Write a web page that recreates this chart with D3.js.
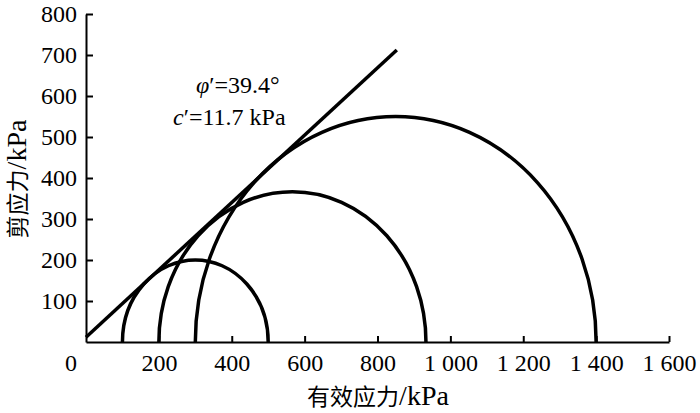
<!DOCTYPE html>
<html><head><meta charset="utf-8">
<script src="https://cdn.jsdelivr.net/npm/d3@7"></script>
<style>
html,body{margin:0;padding:0;background:#fff;}
svg{display:block;}
</style></head>
<body>
<svg id="chart" width="700" height="413"></svg>
<script>
// ---- data ----
const sigma3 = [100, 200, 300];          // kPa, left ends of Mohr circles
const sigma1 = [500, 933, 1400];         // kPa, right ends of Mohr circles
const phiDeg = 39.4;                     // friction angle
const cPrime = 11.7;                     // cohesion kPa
const envelopeX = [0, 853];              // extent of failure envelope (kPa)
const xTicks = [200, 400, 600, 800, 1000, 1200, 1400, 1600];
const xTickLabels = ["200", "400", "600", "800", "1 000", "1 200", "1 400", "1 600"];
const yTicks = [100, 200, 300, 400, 500, 600, 700, 800];
const yTickLabels = ["100", "200", "300", "400", "500", "600", "700", "800"];
const xTitle = ["有效应力", "/kPa"];
const yTitle = ["剪应力", "/kPa"];

const SERIF = "'Liberation Serif'";
const CJK = "'Noto Sans CJK SC'";

const svg = d3.select("#chart");
const x = d3.scaleLinear().domain([0, 1600]).range([86, 669]);
const y = d3.scaleLinear().domain([0, 800]).range([342, 14]);

// axes
const xAxis = d3.axisBottom(x).tickValues(xTicks).tickSizeInner(-6).tickSizeOuter(0)
  .tickFormat((d, i) => xTickLabels[i]).tickPadding(12);
const gx = svg.append("g").attr("transform", `translate(0,${y(0)})`).call(xAxis);
gx.select(".domain").attr("stroke", "#000").attr("stroke-width", 2);
gx.selectAll(".tick line").attr("stroke", "#000").attr("stroke-width", 2);
gx.selectAll(".tick text").style("font-family", SERIF).style("font-size", "24px").attr("fill", "#000");

const yAxis = d3.axisLeft(y).tickValues(yTicks).tickSizeInner(-7).tickSizeOuter(0)
  .tickFormat((d, i) => yTickLabels[i]).tickPadding(9);
const gy = svg.append("g").attr("transform", `translate(${x(0)},0)`).call(yAxis);
gy.select(".domain").attr("stroke", "#000").attr("stroke-width", 2);
gy.selectAll(".tick line").attr("stroke", "#000").attr("stroke-width", 2);
gy.selectAll(".tick text").style("font-family", SERIF).style("font-size", "24px").attr("fill", "#000");

// origin label
svg.append("text").attr("x", x(0) - 15).attr("y", y(0) + 29).attr("text-anchor", "middle")
  .style("font-family", SERIF).style("font-size", "24px").text("0");

// Mohr circles (upper halves)
const circles = sigma3.map((s3, i) => ({ s3, s1: sigma1[i] }));
svg.selectAll("path.mohr").data(circles).enter().append("path")
  .attr("class", "mohr")
  .attr("fill", "none").attr("stroke", "#000").attr("stroke-width", 3.5)
  .attr("d", d => {
    const r = (d.s1 - d.s3) / 2;
    const rx = x(r) - x(0), ry = y(0) - y(r);
    return `M${x(d.s3)},${y(0)} A${rx},${ry} 0 0 1 ${x(d.s1)},${y(0)}`;
  });

// failure envelope
const tanPhi = Math.tan(phiDeg * Math.PI / 180);
const env = envelopeX.map(s => [s, cPrime + s * tanPhi]);
svg.append("path").attr("fill", "none").attr("stroke", "#000").attr("stroke-width", 3.5)
  .attr("d", d3.line().x(d => x(d[0])).y(d => y(d[1]))(env));

// annotations
const t1 = svg.append("text").attr("x", 196).attr("y", 93).style("font-family", SERIF).style("font-size", "24px");
t1.append("tspan").style("font-style", "italic").text("φ");
t1.append("tspan").text("′=" + phiDeg + "°");
const t2 = svg.append("text").attr("x", 173).attr("y", 125).style("font-family", SERIF).style("font-size", "24px");
t2.append("tspan").style("font-style", "italic").text("c");
t2.append("tspan").text("′=" + cPrime + " kPa");

// axis titles
const xt = svg.append("text").attr("x", 378).attr("y", 405).attr("text-anchor", "middle");
xt.append("tspan").style("font-family", CJK).style("font-size", "23px").text(xTitle[0]);
xt.append("tspan").style("font-family", SERIF).style("font-size", "28px").text(xTitle[1]);

const yt = svg.append("text").attr("transform", "translate(26,179) rotate(-90)").attr("text-anchor", "middle");
yt.append("tspan").style("font-family", CJK).style("font-size", "23px").text(yTitle[0]);
yt.append("tspan").style("font-family", SERIF).style("font-size", "28px").text(yTitle[1]);
</script>
</body></html>
